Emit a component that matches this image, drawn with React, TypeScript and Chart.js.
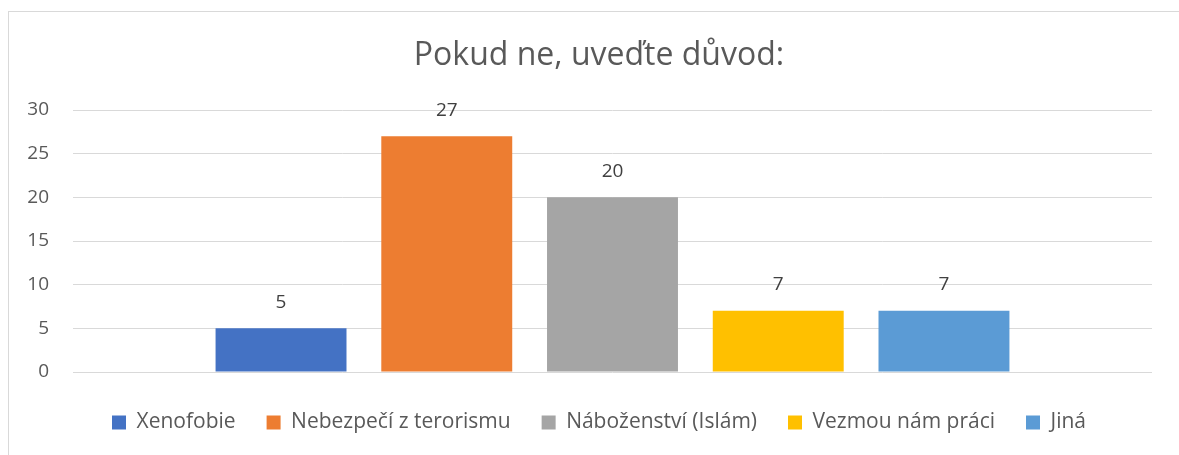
import React, { useEffect, useRef } from "react";
import { Chart, registerables } from "chart.js";

Chart.register(...registerables);

const categories: string[] = [""];
const seriesNames: string[] = [
  "Xenofobie",
  "Nebezpečí z terorismu",
  "Náboženství (Islám)",
  "Vezmou nám práci",
  "Jiná",
];
const seriesValues: number[] = [5, 27, 20, 7, 7];
const seriesColors: string[] = ["#4472C4", "#ED7D31", "#A5A5A5", "#FFC000", "#5B9BD5"];
const yTicks: number[] = [0, 5, 10, 15, 20, 25, 30];
const titleText = "Pokud ne, uveďte důvod:";

const FONT = "'Open Sans', sans-serif";

const dataLabelPlugin = {
  id: "dataLabels",
  afterDatasetsDraw(chart: any) {
    const ctx = chart.ctx;
    ctx.save();
    ctx.font = `19px ${FONT}`;
    ctx.fillStyle = "#404040";
    ctx.textAlign = "center";
    ctx.textBaseline = "middle";
    chart.data.datasets.forEach((ds: any, i: number) => {
      const meta = chart.getDatasetMeta(i);
      meta.data.forEach((el: any, j: number) => {
        ctx.fillText(String(ds.data[j]), el.x, el.y - 26);
      });
    });
    ctx.restore();
  },
};

export default function App() {
  const ref = useRef<HTMLCanvasElement>(null);
  useEffect(() => {
    document.body.style.overflow = "hidden";
    const canvas = ref.current!;
    const chart = new Chart(canvas, {
      type: "bar",
      data: {
        labels: categories,
        datasets: seriesNames.map((name, i) => ({
          label: name,
          data: [seriesValues[i]],
          backgroundColor: seriesColors[i],
          borderWidth: 0,
          categoryPercentage: 0.768,
          barPercentage: 0.79,
        })),
      },
      options: {
        responsive: false,
        animation: false,
        layout: { padding: { left: 0, right: 0, top: 0, bottom: 24 } },
        plugins: {
          title: {
            display: true,
            text: titleText,
            color: "#595959",
            font: { family: FONT, size: 32, weight: "normal" },
            padding: { top: 25, bottom: 34.6 },
          },
          legend: {
            position: "bottom",
            labels: {
              boxWidth: 14,
              boxHeight: 14,
              padding: 31,
              color: "#595959",
              font: { family: FONT, size: 21 },
            },
          },
          tooltip: { enabled: false },
        },
        scales: {
          x: {
            display: true,
            ticks: { display: false },
            grid: { display: false },
            border: { display: false },
            afterFit: (s: any) => {
              s.height = 9;
            },
          },
          y: {
            min: 0,
            max: 30,
            afterBuildTicks: (s: any) => {
              s.ticks = yTicks.map((v) => ({ value: v }));
            },
            ticks: {
              color: "#595959",
              padding: 24,
              font: { family: FONT, size: 19 },
            },
            grid: { color: "#D9D9D9", lineWidth: 1, drawTicks: false },
            border: { display: false },
            afterFit: (s: any) => {
              s.width = 64;
            },
          },
          yRight: {
            type: "linear",
            position: "right",
            display: true,
            min: 0,
            max: 30,
            ticks: { display: false },
            grid: { display: false },
            border: { display: false },
            afterFit: (s: any) => {
              s.width = 37;
            },
          },
        },
      },
      plugins: [dataLabelPlugin],
    });
    return () => chart.destroy();
  }, []);
  return (
    <div
      style={{
        position: "absolute",
        left: 8,
        top: 11,
        border: "1px solid #D9D9D9",
        width: 1180,
        height: 460,
      }}
    >
      <canvas ref={ref} width={1180} height={455} style={{ display: "block" }} />
    </div>
  );
}
